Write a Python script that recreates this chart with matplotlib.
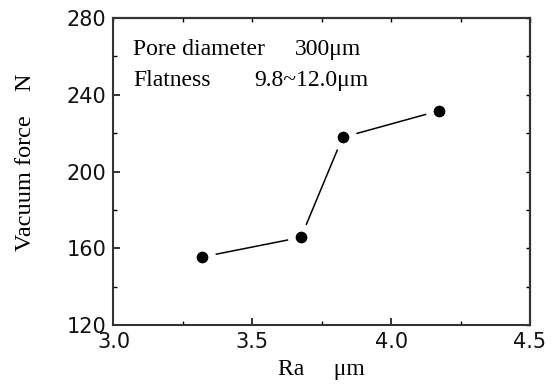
import numpy as np
import matplotlib
matplotlib.use("Agg")
import matplotlib.pyplot as plt
from matplotlib.ticker import MultipleLocator, NullFormatter

# data
ra = [3.32, 3.675, 3.825, 4.173]
force = [155.5, 165.7, 217.8, 231.7]

x_ticks = [3.0, 3.5, 4.0, 4.5]
y_ticks = [120, 160, 200, 240, 280]

serif = ['Liberation Serif', 'Noto Sans CJK JP']
sans = 'DejaVu Sans'
fs = 17

fig = plt.figure(figsize=(5.55, 3.87), dpi=100)
ax = fig.add_axes([0.2045, 0.160, 0.7505, 0.7935])

ax.plot(ra, force, color='black', lw=1.1, marker='o', ms=14,
        mfc='black', mec='white', mew=5.5, zorder=3)

ax.set_xlim(3.0, 4.5)
ax.set_ylim(120, 280)
ax.set_xticks(x_ticks)
ax.set_yticks(y_ticks)
ax.set_xticklabels(['%.1f' % v for v in x_ticks], fontfamily=sans, fontsize=15)
ax.set_yticklabels([str(v) for v in y_ticks], fontfamily=sans, fontsize=15)
ax.xaxis.set_minor_locator(MultipleLocator(0.25))
ax.yaxis.set_minor_locator(MultipleLocator(20))
ax.tick_params(which='major', direction='in', length=5, width=1.2, pad=5, colors='#111111')
ax.tick_params(which='minor', direction='in', length=3, width=1.0)

for sp in ax.spines.values():
    sp.set_linewidth(1.5)
    sp.set_color('#333333')

# small ticks on the top and right frame
sec_x = ax.secondary_xaxis('top')
sec_x.xaxis.set_major_locator(MultipleLocator(0.25))
sec_x.xaxis.set_major_formatter(NullFormatter())
sec_x.tick_params(direction='in', length=3, width=1.0)
sec_x.spines['top'].set_linewidth(1.5)
sec_y = ax.secondary_yaxis('right')
sec_y.yaxis.set_major_locator(MultipleLocator(20))
sec_y.yaxis.set_major_formatter(NullFormatter())
sec_y.tick_params(direction='in', length=3, width=1.0)
sec_y.spines['right'].set_linewidth(1.5)

ax.set_xlabel('Ra\u3000 \u03bcm', fontfamily=serif, fontsize=fs, labelpad=5)
ax.set_ylabel('Vacuum force\u3000N', fontfamily=serif, fontsize=17.5)
ax.yaxis.set_label_coords(-0.185, 0.53)

ax.text(0.047, 0.879, 'Pore diameter', transform=ax.transAxes, fontfamily=serif, fontsize=fs)
ax.text(0.436, 0.879, '300\u03bcm', transform=ax.transAxes, fontfamily=serif, fontsize=fs)
ax.text(0.047, 0.778, 'Flatness', transform=ax.transAxes, fontfamily=serif, fontsize=fs)
ax.text(0.338, 0.778, '9.8~12.0\u03bcm', transform=ax.transAxes, fontfamily=serif, fontsize=fs)

fig.savefig('out.png', dpi=100)
